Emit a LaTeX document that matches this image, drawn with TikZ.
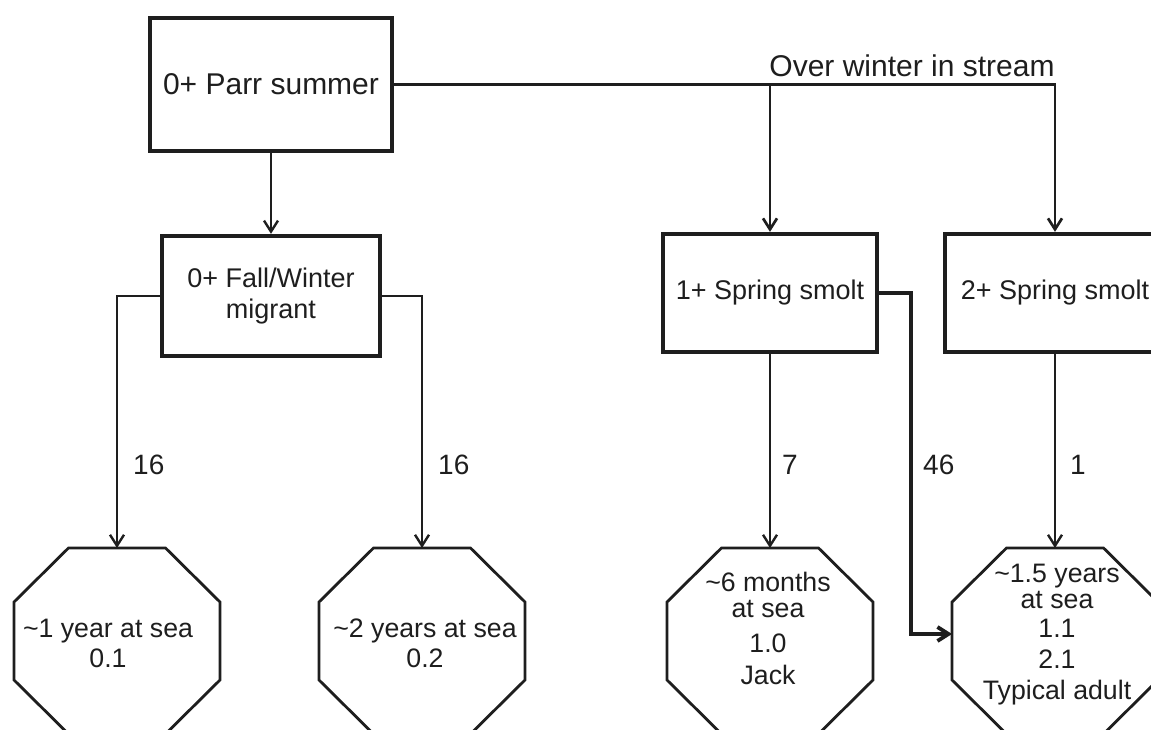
\documentclass[tikz,border=0pt]{standalone}
\usepackage{fontspec}
\setmainfont{Liberation Sans}
\usetikzlibrary{arrows.meta,calc}
\definecolor{ink}{HTML}{1E1E1E}
\begin{document}
\begin{tikzpicture}[x=1pt,y=-1pt,
  every node/.style={text=ink},
  box/.style={draw=ink, line width=4.3pt, inner sep=0pt, align=center, font=\fontsize{27}{30.5}\selectfont},
  oct/.style={minimum width=206pt, minimum height=186pt, inner sep=0pt, outer sep=0pt},
  octline/.style={draw=ink, line width=2.8pt, line join=miter},
  octtext/.style={anchor=north, align=center, inner sep=0pt, font=\fontsize{26.7}{30}\selectfont},
  conn/.style={draw=ink, line width=2.4pt},
  conn46/.style={draw=ink, line width=3.8pt},
  arr/.style={-{Straight Barb[length=11pt,width=14pt]}},
  num/.style={anchor=west, inner sep=0pt, font=\fontsize{28}{30}\selectfont},
]
\clip (0,0) rectangle (1151,730);
\fill[white] (0,0) rectangle (1151,730);

% boxes
\node[box, minimum width=242pt, minimum height=133pt, font=\fontsize{30}{32}\selectfont] (parr) at (271,84.5) {0+ Parr summer};
\node[box, minimum width=218pt, minimum height=120pt] (fw) at (271,296) {0+ Fall/Winter\\migrant};
\node[box, minimum width=214pt, minimum height=118pt] (s1) at (770,293) {1+ Spring smolt};
\node[box, minimum width=220pt, minimum height=118pt] (s2) at (1055,293) {2+ Spring smolt};

% octagons
\node[oct] (o1) at (117,641) {};
\node[oct] (o2) at (422,641) {};
\node[oct] (o3) at (770,641) {};
\node[oct] (o4) at (1055,641) {};
\foreach \n in {o1,o2,o3,o4}{
  \draw[octline] ($(\n.north west)+(54.5,0)$) -- ($(\n.north east)+(-54.5,0)$)
    -- ($(\n.north east)+(0,54)$) -- ($(\n.south east)+(0,-54)$)
    -- ($(\n.south east)+(-54.5,0)$) -- ($(\n.south west)+(54.5,0)$)
    -- ($(\n.south west)+(0,-54)$) -- ($(\n.north west)+(0,54)$) -- cycle;
}
\node[octtext] (o1t) at (108,619) {\textasciitilde 1 year at sea\\0.1};
\node[octtext] (o2t) at (425,619) {\textasciitilde 2 years at sea\\0.2};
\node[octtext] (o3t) at (768,572) {\textasciitilde 6 months\\[-4pt]at sea\\[5pt]1.0\\[2pt]Jack};
\node[octtext] (o4t) at (1057,563.5) {\textasciitilde 1.5 years\\[-3.5pt]at sea\\[-1pt]1.1\\[1pt]2.1\\[1pt]Typical adult};

% connectors
\draw[conn,arr] (parr.south) -- (parr.south |- fw.north);
\draw[conn,line width=2.7pt,arr] (parr.east) -| (s1.north);
\draw[conn,line width=2.7pt,arr] (parr.east) -| (s2.north);
\node[anchor=base, inner sep=0pt, font=\fontsize{30}{32}\selectfont] (ow) at (912,77) {Over winter in stream};

\draw[conn,arr] (fw.west) -| (o1.north);
\draw[conn,arr] (fw.east) -| (o2.north);
\draw[conn,arr] (s1.south) -- (o3.north);
\coordinate (c46) at (911,634);
\draw[conn46,arr] (s1.east) -| (c46) -- (c46 -| o4.west);
\draw[conn,arr] (s2.south) -- (o4.north);

% numbers
\node[num] (n1) at (133,465) {16};
\node[num] (n2) at (438,465) {16};
\node[num] (n3) at (782,465) {7};
\node[num] (n4) at (923,465) {46};
\node[num] (n5) at (1070,465) {1};
\end{tikzpicture}
\end{document}
